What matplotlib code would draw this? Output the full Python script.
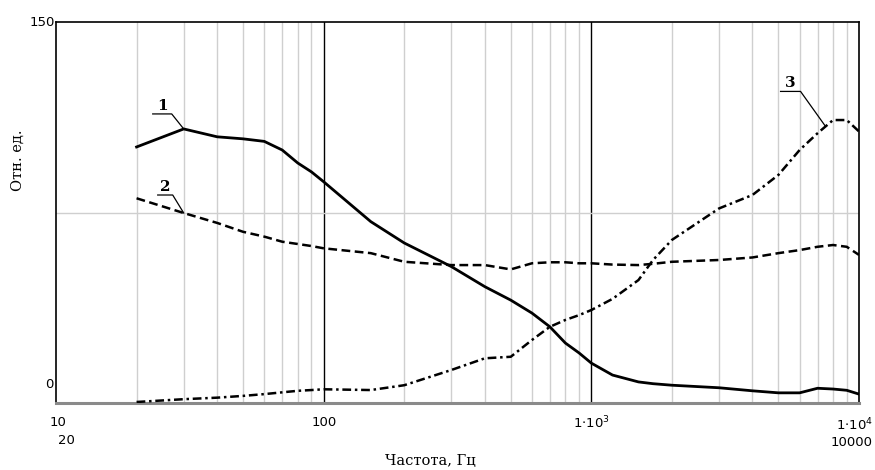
import matplotlib
matplotlib.use("Agg")
import matplotlib.pyplot as plt
import numpy as np

# ---- data ----
freq = [20, 30, 40, 50, 60, 70, 80, 90, 100, 150, 200, 300, 400, 500, 600, 700, 800, 900,
        1000, 1200, 1500, 1700, 2000, 3000, 4000, 5000, 6000, 7000, 8000, 9000, 10000]
curve1 = [100.8, 107.9, 104.8, 104.0, 103.0, 99.6, 94.5, 91.0, 87.1, 71.4, 63.0, 53.7, 45.8, 40.5,
          35.4, 30.0, 23.6, 19.7, 15.7, 11.0, 8.3, 7.6, 7.0, 6.0, 4.8, 4.0, 4.0, 5.8, 5.5, 5.0, 3.5]
curve2 = [80.6, 74.8, 70.9, 67.4, 65.5, 63.5, 62.6, 61.8, 60.9, 59.0, 55.6, 54.3, 54.3, 52.6,
          55.0, 55.4, 55.4, 55.0, 55.0, 54.5, 54.3, 54.8, 55.6, 56.3, 57.3, 59.0, 60.2, 61.5, 62.2, 61.5, 58.3]
curve3 = [0.4, 1.5, 2.1, 2.8, 3.5, 4.2, 4.8, 5.1, 5.4, 5.1, 7.0, 13.0, 17.6, 18.2, 24.8, 30.0,
          32.7, 34.6, 36.6, 41.0, 48.4, 56.3, 64.2, 76.6, 81.9, 89.8, 99.6, 106.2, 111.4, 111.4, 106.9]
curve_labels = ["1", "2", "3"]
label_anchor_freq = [30, 30, 7500]
minor_grid = [20, 30, 40, 50, 60, 70, 80, 90, 200, 300, 400, 500, 600, 700, 800, 900,
              2000, 3000, 4000, 5000, 6000, 7000, 8000, 9000]
major_grid = [100, 1000]
hline_value = 75
x_min, x_max = 10, 10000
y_min, y_max = 0, 150

W, H = 875, 470
fig = plt.figure(figsize=(W / 100, H / 100), dpi=100)
L, R, T, B = 56, 859, 22, 403
ax = fig.add_axes([L / W, 1 - B / H, (R - L) / W, (B - T) / H])
ax.set_xscale("log")
ax.set_xlim(x_min, x_max)
ax.set_ylim(y_min, y_max)
ax.set_xticks([]); ax.set_yticks([])
ax.minorticks_off()
ax.tick_params(which="both", length=0, labelbottom=False, labelleft=False)

for f in minor_grid:
    ax.axvline(f, color="#cfcfcf", lw=1.0, zorder=1)
for f in major_grid:
    ax.axvline(f, color="black", lw=1.0, zorder=1)
ax.axhline(hline_value, color="#cfcfcf", lw=1.0, zorder=1)

for s in ["left", "top", "right"]:
    ax.spines[s].set_color("black")
    ax.spines[s].set_linewidth(1.2)
ax.spines["bottom"].set_color("#8a8a8a")
ax.spines["bottom"].set_linewidth(2.2)

ax.plot(freq, curve1, color="black", lw=2.0, solid_joinstyle="round", zorder=3)
ax.plot(freq, curve2, color="black", lw=1.8, linestyle=(0, (3.5, 1.8)), zorder=3)
ax.plot(freq, curve3, color="black", lw=1.8, linestyle=(0, (3.5, 1.5, 1.0, 1.5)), zorder=3)

serif = ["DejaVu Serif"]
sans = ["DejaVu Sans"]

# leaders with labels (offsets in pixels)
series = [curve1, curve2, curve3]
leaders = [(-12, 15, 19), (-11, 18, 15), (-25, 35, 20)]
fig.canvas.draw()
for lab, af, ser, (kdx, kdy, ul) in zip(curve_labels, label_anchor_freq, series, leaders):
    ay = np.interp(np.log10(af), np.log10(freq), ser)
    px, py = ax.transData.transform((af, ay))
    pts = np.array([(px, py), (px + kdx, py + kdy), (px + kdx - ul, py + kdy)])
    d = ax.transData.inverted().transform(pts)
    ax.plot(d[:, 0], d[:, 1], color="black", lw=0.9, zorder=4, clip_on=False)
    ax.annotate(lab, xy=(af, ay), xycoords="data",
                xytext=(kdx - ul / 2, kdy + 1), textcoords="offset pixels",
                ha="center", va="bottom", fontsize=11, fontweight="bold",
                family=serif)

def ftext(x, y, s, **kw):
    fig.text(x / W, 1 - y / H, s, **kw)

ftext(55, 22, "150", ha="right", va="center", fontsize=9.5, family=sans)
ftext(54, 384, "0", ha="right", va="center", fontsize=9.5, family=sans)
ftext(18, 160, "Отн. ед.", ha="center", va="center", rotation=90, fontsize=10.5, family=serif)
ftext(58, 423, "10", ha="center", va="center", fontsize=9.5, family=sans)
ftext(66, 441, "20", ha="center", va="center", fontsize=9.5, family=sans)
ftext(324, 423, "100", ha="center", va="center", fontsize=9.5, family=sans)
ftext(591, 423, r"1$\cdot$10$^{3}$", ha="center", va="center", fontsize=9.5, family=sans)
ftext(873, 425, r"1$\cdot$10$^{4}$", ha="right", va="center", fontsize=9.5, family=sans)
ftext(852, 443, "10000", ha="center", va="center", fontsize=9.5, family=sans)
ftext(430, 461, "Частота, Гц", ha="center", va="center", fontsize=10.5, family=serif)

fig.savefig("out.png", dpi=100)
